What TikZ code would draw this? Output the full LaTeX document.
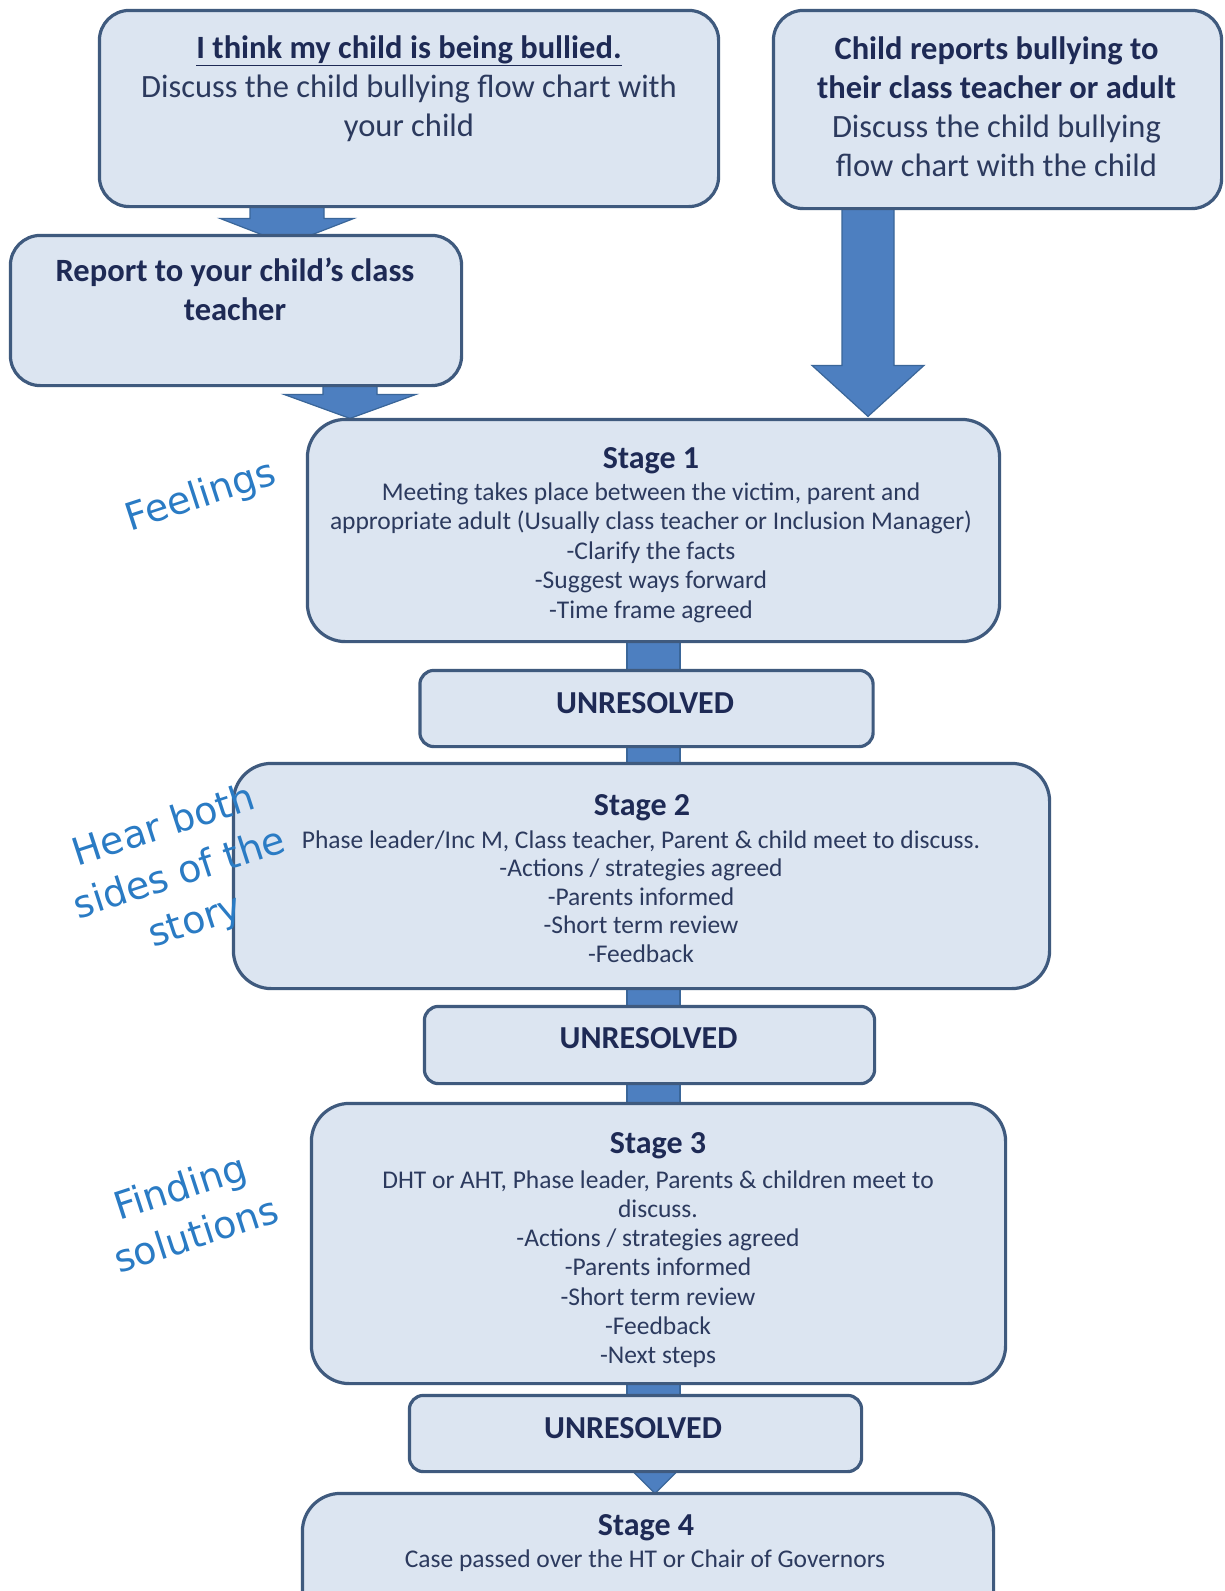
\documentclass[tikz,border=0pt]{standalone}
\usepackage{fontspec}
\setmainfont{Carlito}
\newfontfamily\handfont{DejaVu Sans}
\usetikzlibrary{calc}
\definecolor{boxfill}{HTML}{DCE5F1}
\definecolor{boxline}{HTML}{3F5A7E}
\definecolor{arrowfill}{HTML}{4D7FC0}
\definecolor{arrowline}{HTML}{3A6699}
\definecolor{txtdark}{HTML}{1E2A55}
\definecolor{txtreg}{HTML}{2C3A5E}
\definecolor{handblue}{HTML}{2A7BC4}
\newcommand\blockarrow[5]{%
  \draw[arrowstyle] let \p1=#1, \p2=#2 in
    (\x1-#3pt,\y1) -- (\x1+#3pt,\y1) -- (\x1+#3pt,\y2+#5pt) -- (\x1+#4pt,\y2+#5pt)
    -- (\x1,\y2) -- (\x1-#4pt,\y2+#5pt) -- (\x1-#3pt,\y2+#5pt) -- cycle;
}
\begin{document}
\begin{tikzpicture}[x=1pt,y=-1pt,
  box/.style={draw=boxline, fill=boxfill, line width=3.2pt, inner sep=0pt, rounded corners=30pt},
  stagebox/.style={box, rounded corners=38pt},
  unbox/.style={box, rounded corners=14pt},
  arrowstyle/.style={fill=arrowfill, draw=arrowline, line width=1.2pt},
  toptext/.style={inner sep=0pt, align=center, text=txtreg, font=\fontsize{32.5}{38.8}\selectfont},
  titletext/.style={inner sep=0pt, anchor=base, text=txtdark, font=\bfseries\fontsize{32}{36}\selectfont},
  bodytext/.style={inner sep=0pt, align=center, anchor=north, text=txtreg},
  handtext/.style={inner sep=0pt, align=center, rotate=18, text=handblue, font=\handfont\fontsize{38}{50}\selectfont}
]
\fill[white] (0,0) rectangle (1225,1591);
\useasboundingbox (0,0) rectangle (1225,1591);

% boxes (shapes only, drawn after arrows)
\path
  node[box, minimum width=616pt, minimum height=193pt] (A) at (409,108.5) {}
  node[box, minimum width=445pt, minimum height=195pt] (B) at (997.5,109.5) {}
  node[box, minimum width=448pt, minimum height=147pt] (C) at (236,310.5) {}
  node[stagebox, minimum width=689pt, minimum height=219pt] (S1) at (653.5,530.5) {}
  node[unbox, minimum width=450pt, minimum height=73pt] (U1) at (646.5,708.5) {}
  node[stagebox, minimum width=813pt, minimum height=222pt] (S2) at (641.5,876) {}
  node[unbox, minimum width=447pt, minimum height=74pt] (U2) at (649.5,1045) {}
  node[stagebox, minimum width=691pt, minimum height=277pt] (S3) at (658.5,1243.5) {}
  node[unbox, minimum width=449pt, minimum height=73pt] (U3) at (635.5,1433.5) {}
  node[stagebox, minimum width=688pt, minimum height=160pt] (S4) at (648,1575) {};

% connector axes
\coordinate (acx) at (287,0);
\coordinate (ccx) at (350,0);
\coordinate (bcx) at (868,0);
\coordinate (scx) at (653.5,0);
\coordinate (tcx) at (655,0);

% block arrows
\blockarrow{(A.south -| acx)}{($(C.north -| acx)+(0,9)$)}{37}{67}{26}
\blockarrow{(C.south -| ccx)}{($(S1.north -| ccx)+(0,-1)$)}{27}{66}{24}
\blockarrow{(B.south -| bcx)}{($(S1.north -| bcx)+(0,-3)$)}{26}{56}{51}
\draw[arrowstyle] ($(S1.south -| scx)+(-26.5,-5)$) rectangle ($(U1.north -| scx)+(26.5,5)$);
\draw[arrowstyle] ($(U1.south -| scx)+(-26.5,-5)$) rectangle ($(S2.north -| scx)+(26.5,5)$);
\draw[arrowstyle] ($(S2.south -| scx)+(-26.5,-5)$) rectangle ($(U2.north -| scx)+(26.5,5)$);
\draw[arrowstyle] ($(U2.south -| scx)+(-26.5,-5)$) rectangle ($(S3.north -| scx)+(26.5,5)$);
\draw[arrowstyle] ($(S3.south -| scx)+(-26.5,-5)$) rectangle ($(U3.north -| scx)+(26.5,5)$);
\draw[arrowstyle] ($(U3.south -| tcx)+(-25,-3)$) -- ($(U3.south -| tcx)+(25,-3)$) -- (S4.north -| tcx) -- cycle;

% redraw boxes on top of arrows
\foreach \n/\s in {A/box,B/box,C/box,S1/stagebox,U1/unbox,S2/stagebox,U2/unbox,S3/stagebox,U3/unbox,S4/stagebox}{
  \draw[\s] (\n.north west) rectangle (\n.south east);
}

% top texts
\node[toptext, anchor=north] (tA) at (409,31.4)
  {\strut\textcolor{txtdark}{\underline{\textbf{I think my child is being bullied.}}}\\Discuss the child bullying flow chart with\\your child};
\node[toptext, anchor=north] (tB) at (996.5,32.3)
  {\strut\textcolor{txtdark}{\textbf{Child reports bullying to}}\\\textcolor{txtdark}{\textbf{their class teacher or adult}}\\Discuss the child bullying\\flow chart with the child};
\node[toptext, anchor=north, text=txtdark, font=\bfseries\fontsize{32.5}{38.5}\selectfont] (tC) at (235,254.7)
  {\strut Report to your child's class\\teacher};

% stage titles
\node[titletext] (t1) at (651,468.3) {Stage 1};
\node[titletext] (t2) at (642,815) {Stage 2};
\node[titletext] (t3) at (658,1153) {Stage 3};
\node[titletext] (t4) at (646,1535) {Stage 4};

% unresolved labels
\node[titletext] (u1) at (645,713) {UNRESOLVED};
\node[titletext] (u2) at (648.5,1048) {UNRESOLVED};
\node[titletext] (u3) at (633,1438) {UNRESOLVED};

% stage bodies
\node[bodytext, font=\fontsize{25.5}{29.5}\selectfont] (b1) at (651,479.4)
  {\strut Meeting takes place between the victim, parent and\\appropriate adult  (Usually class teacher or Inclusion  Manager)\\-Clarify the facts\\-Suggest ways forward\\-Time frame agreed};
\node[bodytext, font=\fontsize{25.5}{28.5}\selectfont] (b2) at (641,828)
  {\strut Phase leader/Inc M, Class teacher, Parent \& child meet to discuss.\\-Actions / strategies agreed\\-Parents informed\\-Short term  review\\-Feedback};
\node[bodytext, font=\fontsize{25.5}{29.2}\selectfont] (b3) at (658,1167.6)
  {\strut DHT or AHT, Phase leader, Parents \& children meet to\\discuss.\\-Actions / strategies agreed\\-Parents informed\\-Short term  review\\-Feedback\\-Next  steps};
\node[inner sep=0pt, anchor=base, text=txtreg, font=\fontsize{25.5}{29}\selectfont] (b4) at (645,1567)
  {Case passed over the  HT or Chair of Governors};

% handwritten notes
\node[handtext] (h1) at (201,497) {Feelings};
\node[handtext] (h2) at (180,875) {Hear both\\sides of the\\story};
\node[handtext] (h3) at (188,1210) {Finding\\solutions};
\end{tikzpicture}
\end{document}
